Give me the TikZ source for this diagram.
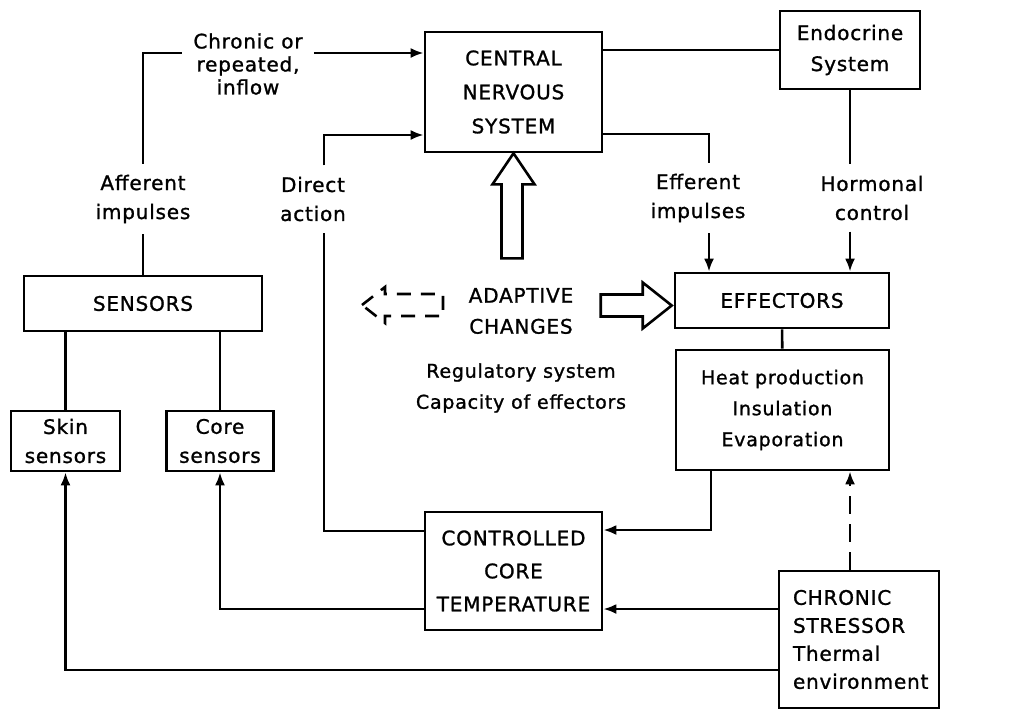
\documentclass[tikz,border=0pt]{standalone}
\usepackage{fontspec}
\setmainfont{DejaVu Sans}[LetterSpace=4, FakeBold=1.2]
\usetikzlibrary{arrows.meta}
\newcommand{\fs}[2]{\fontsize{#1}{#2}\selectfont}
\begin{document}
\begin{tikzpicture}[x=0.5pt, y=-0.5pt, >={Latex[length=6.5pt, width=5pt]}, line width=1.3pt,
  box/.style={draw, align=center, inner sep=0pt, font=\fs{10}{15.5}},
  txt/.style={align=center, inner sep=5pt, font=\fs{10}{14.5}}]
  \useasboundingbox (0,0) rectangle (1016,712);
  % boxes
  \node [box, minimum width=88.5pt, minimum height=60pt, font=\fs{10}{17}] (cns) at (513.5,92) {CENTRAL\\NERVOUS\\SYSTEM};
  \node [box, minimum width=70pt, minimum height=39pt] (endo) at (850,50) {Endocrine\\System};
  \node [box, minimum width=119pt, minimum height=27.5pt] (sens) at (143,303.5) {SENSORS};
  \node [box, minimum width=54.5pt, minimum height=30pt, font=\fs{10}{14.5}] (skin) at (65.5,441) {Skin\\sensors};
  \node [box, minimum width=53.5pt, minimum height=30pt, font=\fs{10}{14.5}] (core) at (220,441) {Core\\sensors};
  \node [box, minimum width=107pt, minimum height=27.5pt] (effr) at (782,300.5) {EFFECTORS};
  \node [box, minimum width=106.5pt, minimum height=60pt, font=\fs{9.5}{15.5}] (heat) at (782.5,410) {Heat production\\Insulation\\Evaporation};
  \node [box, minimum width=88.5pt, minimum height=59pt, font=\fs{10}{16.5}] (ctrl) at (513.5,571) {CONTROLLED\\CORE\\TEMPERATURE};
  \node [box, align=left, inner xsep=7pt, text width=66pt, minimum width=80pt, minimum height=68.5pt, font=\fs{10}{14}] (strs) at (859,639.5) {CHRONIC\\STRESSOR\\Thermal\\environment};
  % labels on the lines
  \node [txt] (aff) at (143,199) {Afferent\\impulses};
  \node [txt] (dir) at (313,199) {Direct\\action};
  \node [txt] (efft) at (698,198) {Efferent\\impulses};
  \node [txt] (horm) at (872,198) {Hormonal\\control};
  \node [txt, font=\fs{10}{11.5}] (chrin) at (248,64) {Chronic or\\repeated,\\inflow};
  \node [txt, font=\fs{10}{15.5}] (adapt) at (521,311) {ADAPTIVE\\CHANGES};
  \node [txt, font=\fs{9.5}{15.5}] (reg) at (521,388) {Regulatory system\\Capacity of effectors};
  % line levels
  \coordinate (yin) at (0,53);
  \coordinate (ydir) at (0,135);
  \coordinate (yeff) at (0,134);
  \coordinate (xdir) at (324,531);
  \coordinate (xeff) at (709,0);
  \coordinate (xht) at (711,530);
  \coordinate (ylow) at (0,609);
  \coordinate (ybot) at (0,670);
  % afferent side
  \draw (sens) -- (aff);
  \draw (aff) |- (chrin.west |- yin);
  \draw [->] (chrin.east |- yin) -- (cns.west |- yin);
  \draw (skin |- sens.south) -- (skin);
  \draw (core |- sens.south) -- (core);
  % direct action
  \draw (ctrl.west |- xdir) -| (dir.south -| xdir);
  \draw [->] (dir.north -| xdir) |- (cns.west |- ydir);
  % efferent side
  \draw (cns.east |- yeff) -| (efft.north -| xeff);
  \draw [->] (efft.south -| xeff) -- (effr.north -| xeff);
  \draw (cns.east |- endo.west) -- (endo.west);
  \draw (endo) -- (endo |- horm.north);
  \draw [->] (endo |- horm.south) -- (endo |- effr.north);
  \draw (effr) -- (heat);
  % back to the core
  \draw [->] (heat.south -| xht) |- (ctrl.east |- xht);
  \draw [->] (strs.west |- ylow) -- (ctrl.east |- ylow);
  \draw [->] (ctrl.west |- ylow) -| (core);
  \draw [->] (strs.west |- ybot) -| (skin);
  \draw [->, dash pattern=on 9pt off 5pt] (strs.north -| endo) -- (heat.south -| endo);
  % open arrows
  \draw (cns.south) -- ++(21,31) -- ++(-12,0) -- ++(0,74) -- ++(-21,0) -- ++(0,-74) -- ++(-9,0) -- cycle;
  \draw (effr.west) ++(-2,5) -- ++(-29,-23) -- ++(0,12) -- ++(-42,0) -- ++(0,22) -- ++(42,0) -- ++(0,12) -- cycle;
  \draw [dash pattern=on 7pt off 5pt] (362,305) -- (385,287) -- (385,294) -- (443,294) -- (443,316) -- (385,316) -- (385,323) -- cycle;
\end{tikzpicture}
\end{document}
